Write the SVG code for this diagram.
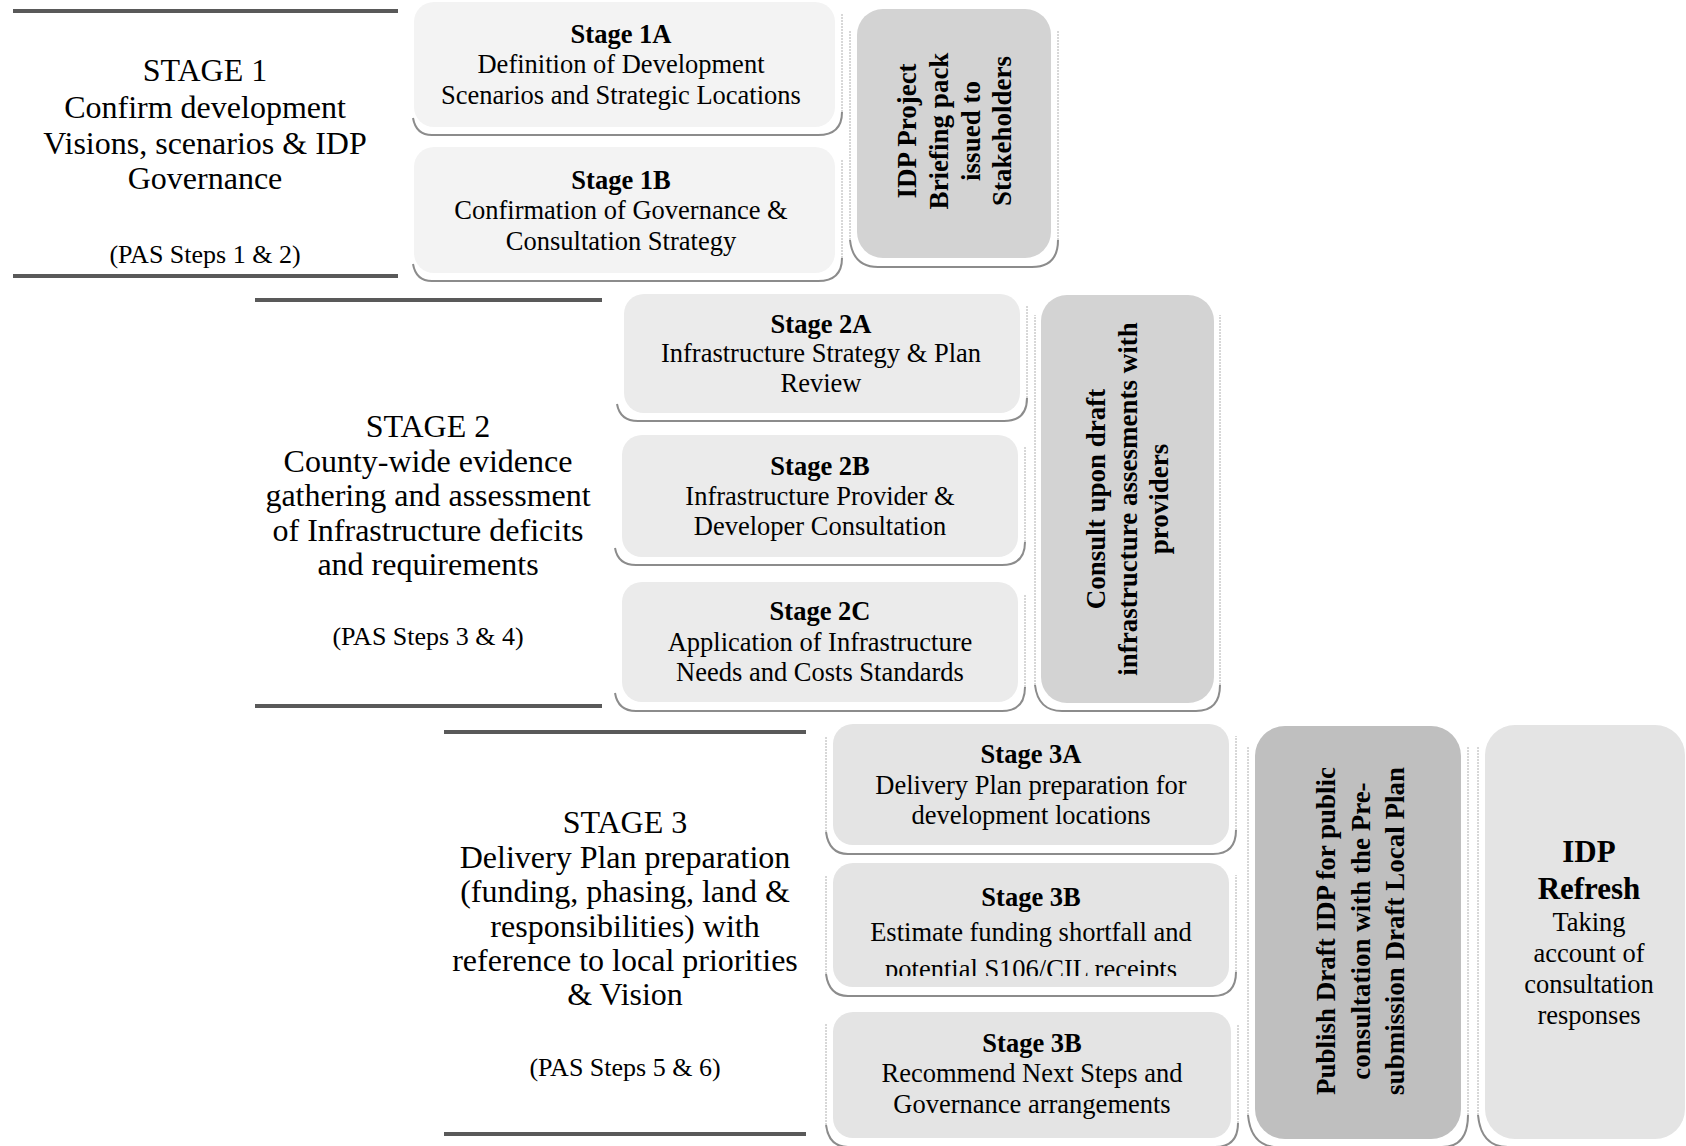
<svg xmlns="http://www.w3.org/2000/svg" width="1686" height="1146" viewBox="0 0 1686 1146">
<style>
text{font-family:"Liberation Serif","Times New Roman",serif;fill:#000;text-anchor:middle}
.big{font-size:32px}
.pas{font-size:26px}
.bt{font-size:26.5px}
.b{font-weight:bold}
.vt{font-size:27px;font-weight:bold}
.rule{stroke:#595959;stroke-width:4;fill:none}
.sh{fill:none;stroke:#8c8c8c;stroke-width:2}
.shs{fill:none;stroke:#b0b0b0;stroke-width:1;stroke-dasharray:2 1}
.l1{fill:#f3f3f3}
.l2{fill:#ebebeb}
.l3{fill:#e4e4e4}
.d1{fill:#d3d3d3}
.d2{fill:#bfbfbf}
</style>
<defs>
<clipPath id="clip3b"><rect x="833" y="863" width="396" height="113"/></clipPath>
</defs>
<rect width="1686" height="1146" fill="#fff"/>

<g id="stage1">
<line class="rule" x1="13" y1="11" x2="398" y2="11"/>
<line class="rule" x1="13" y1="276" x2="398" y2="276"/>
<text class="big" x="205" y="81">STAGE 1</text>
<text class="big" x="205" y="118">Confirm development</text>
<text class="big" x="205" y="154">Visions, scenarios &amp; IDP</text>
<text class="big" x="205" y="189">Governance</text>
<text class="pas" x="205" y="263">(PAS Steps 1 &amp; 2)</text>
</g>

<g id="stage1a">
<path class="sh" d="M413,118 Q416,135 432,135 L818,135 Q842,135 842,112"/>
<path class="shs" d="M842,112 L842,14"/>
<rect class="l1" x="414" y="2" width="421" height="125" rx="20"/>
<text class="bt b" x="621" y="43">Stage 1A</text>
<text class="bt" x="621" y="73">Definition of Development</text>
<text class="bt" x="621" y="104">Scenarios and Strategic Locations</text>
</g>

<g id="stage1b">
<path class="sh" d="M413,264 Q416,281 432,281 L818,281 Q842,281 842,258"/>
<path class="shs" d="M842,258 L842,160"/>
<rect class="l1" x="414" y="147" width="421" height="126" rx="20"/>
<text class="bt b" x="621" y="189">Stage 1B</text>
<text class="bt" x="621" y="219">Confirmation of Governance &amp;</text>
<text class="bt" x="621" y="250">Consultation Strategy</text>
</g>

<g id="briefing">
<path class="sh" d="M850,240 Q853,267 878,267 L1032,267 Q1058,267 1058,240"/>
<path class="shs" d="M850,240 L850,30 M1058,240 L1058,30"/>
<rect class="d1" x="857" y="9" width="194" height="249" rx="26"/>
<g transform="translate(954,131) rotate(-90)">
<text class="vt" x="0" y="-38">IDP Project</text>
<text class="vt" x="0" y="-6">Briefing pack</text>
<text class="vt" x="0" y="26">issued to</text>
<text class="vt" x="0" y="57">Stakeholders</text>
</g>
</g>

<g id="stage2">
<line class="rule" x1="255" y1="300" x2="602" y2="300"/>
<line class="rule" x1="255" y1="706" x2="602" y2="706"/>
<text class="big" x="428" y="437">STAGE 2</text>
<text class="big" x="428" y="472">County-wide evidence</text>
<text class="big" x="428" y="506">gathering and assessment</text>
<text class="big" x="428" y="541">of Infrastructure deficits</text>
<text class="big" x="428" y="575">and requirements</text>
<text class="pas" x="428" y="645">(PAS Steps 3 &amp; 4)</text>
</g>

<g id="stage2a">
<path class="sh" d="M617,404 Q620,421 638,421 L1004,421 Q1027,421 1027,398"/>
<path class="shs" d="M1027,398 L1027,306"/>
<rect class="l2" x="624" y="294" width="396" height="119" rx="20"/>
<text class="bt b" x="821" y="333">Stage 2A</text>
<text class="bt" x="821" y="362">Infrastructure Strategy &amp; Plan</text>
<text class="bt" x="821" y="392">Review</text>
</g>

<g id="stage2b">
<path class="sh" d="M615,548 Q618,565 636,565 L1002,565 Q1025,565 1025,542"/>
<path class="shs" d="M1025,542 L1025,447"/>
<rect class="l2" x="622" y="435" width="396" height="122" rx="20"/>
<text class="bt b" x="820" y="475">Stage 2B</text>
<text class="bt" x="820" y="505">Infrastructure Provider &amp;</text>
<text class="bt" x="820" y="535">Developer Consultation</text>
</g>

<g id="stage2c">
<path class="sh" d="M615,693 Q618,711 636,711 L1002,711 Q1025,711 1025,687"/>
<path class="shs" d="M1025,687 L1025,594"/>
<rect class="l2" x="622" y="582" width="396" height="120" rx="20"/>
<text class="bt b" x="820" y="620">Stage 2C</text>
<text class="bt" x="820" y="651">Application of Infrastructure</text>
<text class="bt" x="820" y="681">Needs and Costs Standards</text>
</g>

<g id="consult">
<path class="sh" d="M1035,685 Q1038,711 1062,711 L1196,711 Q1220,711 1220,685"/>
<path class="shs" d="M1035,685 L1035,315 M1220,685 L1220,315"/>
<rect class="d1" x="1041" y="295" width="173" height="408" rx="26"/>
<g transform="translate(1128,499) rotate(-90)">
<text class="vt" x="0" y="-23">Consult upon draft</text>
<text class="vt" x="0" y="9">infrastructure assesments with</text>
<text class="vt" x="0" y="40">providers</text>
</g>
</g>

<g id="stage3">
<line class="rule" x1="444" y1="732" x2="806" y2="732"/>
<line class="rule" x1="444" y1="1134" x2="806" y2="1134"/>
<text class="big" x="625" y="833">STAGE 3</text>
<text class="big" x="625" y="868">Delivery Plan preparation</text>
<text class="big" x="625" y="902">(funding, phasing, land &amp;</text>
<text class="big" x="625" y="937">responsibilities) with</text>
<text class="big" x="625" y="971">reference to local priorities</text>
<text class="big" x="625" y="1005">&amp; Vision</text>
<text class="pas" x="625" y="1076">(PAS Steps 5 &amp; 6)</text>
</g>

<g id="stage3a">
<path class="sh" d="M826,832 Q829,854 848,854 L1213,854 Q1236,854 1236,830"/>
<path class="shs" d="M826,832 L826,736 M1236,830 L1236,736"/>
<rect class="l3" x="833" y="724" width="396" height="121" rx="20"/>
<text class="bt b" x="1031" y="763">Stage 3A</text>
<text class="bt" x="1031" y="794">Delivery Plan preparation for</text>
<text class="bt" x="1031" y="824">development locations</text>
</g>

<g id="stage3b">
<path class="sh" d="M826,974 Q829,996 848,996 L1213,996 Q1236,996 1236,972"/>
<path class="shs" d="M826,974 L826,875 M1236,972 L1236,875"/>
<rect class="l3" x="833" y="863" width="396" height="124" rx="20"/>
<g clip-path="url(#clip3b)">
<text class="bt b" x="1031" y="906">Stage 3B</text>
<text class="bt" x="1031" y="941">Estimate funding shortfall and</text>
<text class="bt" x="1031" y="978">potential S106/CIL receipts</text>
</g>
</g>

<g id="stage3c">
<path class="sh" d="M826,1125 Q829,1147 848,1147 L1215,1147 Q1238,1147 1238,1123"/>
<path class="shs" d="M826,1125 L826,1024 M1238,1123 L1238,1024"/>
<rect class="l3" x="833" y="1012" width="398" height="126" rx="20"/>
<text class="bt b" x="1032" y="1052">Stage 3B</text>
<text class="bt" x="1032" y="1082">Recommend Next Steps and</text>
<text class="bt" x="1032" y="1113">Governance arrangements</text>
</g>

<g id="publish">
<path class="sh" d="M1248,1115 Q1251,1147 1278,1147 L1442,1147 Q1468,1147 1468,1115"/>
<path class="shs" d="M1248,1115 L1248,746 M1468,1115 L1468,746"/>
<rect class="d2" x="1255" y="726" width="206" height="413" rx="30"/>
<g transform="translate(1361,931) rotate(-90)">
<text class="vt" x="0" y="-26">Publish Draft IDP for public</text>
<text class="vt" x="0" y="9">consultation with the Pre-</text>
<text class="vt" x="0" y="43">submission Draft Local Plan</text>
</g>
</g>

<g id="refresh">
<path class="sh" d="M1478,1115 Q1481,1147 1508,1147 L1686,1147"/>
<path class="shs" d="M1478,1115 L1478,746"/>
<rect class="l3" x="1485" y="725" width="200" height="414" rx="30"/>
<text class="b" style="font-size:31px" x="1589" y="862">IDP</text>
<text class="b" style="font-size:31px" x="1589" y="899">Refresh</text>
<text class="bt" x="1589" y="931">Taking</text>
<text class="bt" x="1589" y="962">account of</text>
<text class="bt" x="1589" y="993">consultation</text>
<text class="bt" x="1589" y="1024">responses</text>
</g>

<g id="connectors"></g>
</svg>
